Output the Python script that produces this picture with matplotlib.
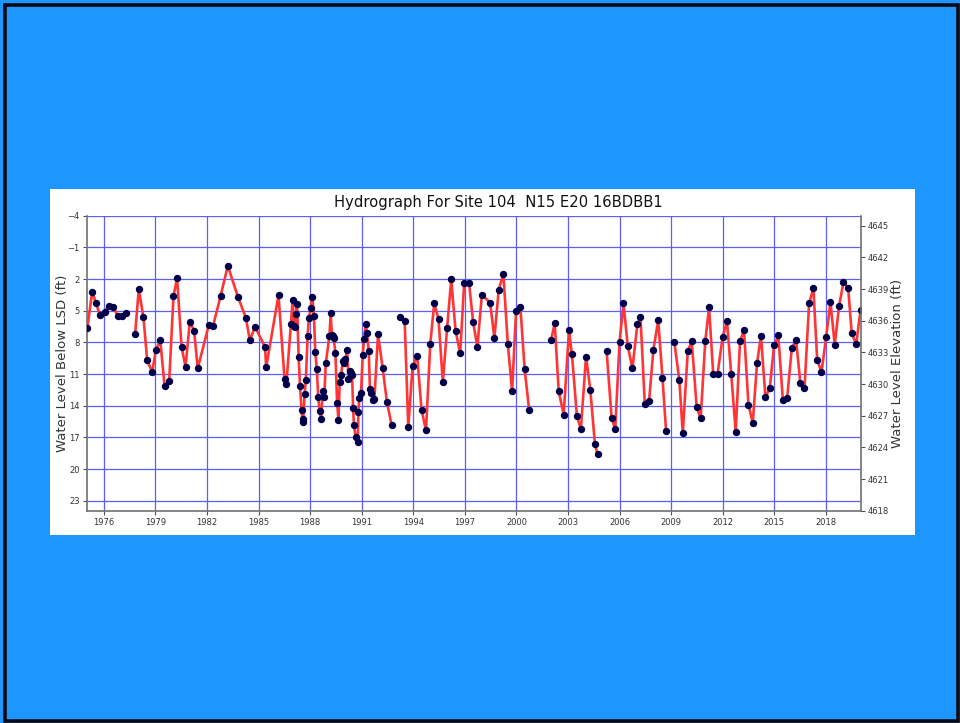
import numpy as np
import matplotlib.pyplot as plt
from matplotlib.patches import Rectangle

nan = np.nan

# decimal year of each measurement, nan marks a break in the record
years = [1975.04, 1975.32, 1975.54, 1975.77, 1976.04, 1976.27, 1976.55, 1976.80, 1977.03, 1977.28, nan,
         1977.82, 1978.03, 1978.30, 1978.52, 1978.81, 1979.03, 1979.28, 1979.53, 1979.80, 1980.05,
         1980.26, 1980.52, 1980.75, 1981.00, 1981.25, 1981.46, 1982.10, 1982.35, 1982.79, 1983.21,
         1983.81, 1984.26, 1984.49, 1984.80, 1985.38, 1985.44, 1986.16, 1986.51, 1986.62, 1986.88,
         1986.98, 1987.05, 1987.11, 1987.16, 1987.24, 1987.33, 1987.41, 1987.50, 1987.56, 1987.60,
         1987.68, 1987.75, 1987.85, 1987.93, 1988.04, 1988.13, 1988.22, 1988.30, 1988.39, 1988.47,
         1988.55, 1988.64, 1988.73, 1988.82, 1988.91, 1989.12, 1989.20, 1989.26, 1989.32, 1989.37,
         1989.47, 1989.57, 1989.65, 1989.72, 1989.80, 1989.90, 1989.95, 1990.05, 1990.15, 1990.23,
         1990.30, 1990.38, 1990.44, 1990.50, 1990.55, 1990.65, 1990.77, 1990.81, 1990.86, 1990.96,
         1991.06, 1991.14, 1991.23, 1991.31, 1991.41, 1991.48, 1991.56, 1991.64, 1991.74, 1991.95,
         1992.22, 1992.47, 1992.74, nan,
         1993.24, 1993.50, 1993.71, 1993.96, 1994.23, 1994.48, 1994.74, 1994.99, 1995.22, 1995.47,
         1995.72, 1995.97, 1996.21, 1996.46, 1996.73, 1996.96, 1997.25, 1997.48, 1997.73, 1997.99,
         1998.47, 1998.72, 1998.97, 1999.24, 1999.50, 1999.75, 1999.98, 2000.23, 2000.48, 2000.74, nan,
         2002.01, 2002.23, 2002.46, 2002.75, 2003.06, 2003.23, 2003.52, 2003.75, 2004.05, 2004.30,
         2004.57, 2004.72, nan,
         2005.25, 2005.54, 2005.75, 2006.00, 2006.23, 2006.48, 2006.75, 2007.04, 2007.22, 2007.47,
         2007.72, 2007.97, 2008.25, 2008.50, 2008.71, nan,
         2009.19, 2009.48, 2009.68, 2009.97, 2010.20, 2010.49, 2010.72, 2010.99, 2011.21, 2011.45,
         2011.70, 2012.00, 2012.25, 2012.50, 2012.76, 2013.01, 2013.24, 2013.50, 2013.75, 2014.00,
         2014.23, 2014.49, 2014.74, 2014.99, 2015.24, 2015.50, 2015.75, 2016.02, 2016.27, 2016.52,
         2016.76, 2017.03, 2017.28, 2017.50, 2017.75, 2018.02, 2018.27, 2018.52, 2018.77, 2019.03,
         2019.30, 2019.51, 2019.77, 2020.02]

# water level below land surface (ft)
depth = [6.61, 3.20, 4.30, 5.40, 5.13, 4.56, 4.65, 5.47, 5.54, 5.25, nan,
         7.18, 2.95, 5.60, 9.70, 10.80, 8.69, 7.81, 12.10, 11.66, 3.64,
         1.90, 8.44, 10.30, 6.04, 6.89, 10.46, 6.39, 6.45, 3.61, 0.74,
         3.74, 5.66, 7.78, 6.52, 8.47, 10.37, 3.52, 11.45, 11.90, 6.30,
         3.95, 6.45, 6.50, 5.30, 4.35, 9.40, 12.10, 14.40, 15.50, 15.30,
         12.85, 11.60, 7.40, 5.70, 4.70, 3.70, 5.50, 8.90, 10.55, 13.20,
         14.50, 15.25, 12.65, 13.20, 10.00, 7.43, 5.25, 7.27, 7.37, 7.60,
         9.00, 13.78, 15.33, 11.75, 11.08, 9.78, 10.00, 9.55, 8.76, 11.45,
         10.68, 10.90, 11.06, 14.23, 15.85, 17.00, 17.42, 14.60, 13.24, 12.80,
         9.17, 7.65, 6.30, 7.10, 8.86, 12.40, 12.83, 13.47, 13.33, 7.25,
         10.46, 13.68, 15.83, nan,
         5.57, 5.98, 16.05, 10.27, 9.33, 14.38, 16.34, 8.13, 4.30, 5.79,
         11.79, 6.61, 2.03, 6.89, 9.04, 2.41, 2.41, 6.04, 8.44, 3.48,
         4.24, 7.59, 3.04, 1.49, 8.13, 12.61, 5.06, 4.62, 10.53, 14.38, nan,
         7.81, 6.20, 12.61, 14.85, 6.83, 9.14, 14.95, 16.24, 9.36, 12.48,
         17.66, 18.58, nan,
         8.85, 15.14, 16.24, 7.97, 4.30, 8.35, 10.46, 6.26, 5.63, 13.84,
         13.53, 8.69, 5.92, 11.38, 16.43, nan,
         7.97, 11.60, 16.62, 8.85, 7.87, 14.16, 15.20, 7.87, 4.68, 11.02,
         11.02, 7.50, 5.98, 11.03, 16.49, 7.90, 6.83, 13.90, 15.64, 9.96,
         7.40, 13.18, 12.36, 8.29, 7.34, 13.43, 13.30, 8.57, 7.75, 11.85,
         12.36, 4.30, 2.88, 9.67, 10.81, 7.50, 4.18, 8.22, 4.59, 2.28,
         2.82, 7.15, 8.19, 4.94]

land_surface = 4641.95
title = "Hydrograph For Site 104  N15 E20 16BDBB1"
x_ticks = list(range(1976, 2020, 3))
depth_ticks = list(range(-4, 24, 3))
elev_ticks = list(range(4618, 4646, 3))

fig = plt.figure(figsize=(9.6, 7.23), dpi=100, facecolor='#1E96FF')

# white chart panel (behind the axes) and black outer border
fig.patches.append(Rectangle((50 / 960, 1 - 535 / 723), 865 / 960, 346 / 723,
                             transform=fig.transFigure, facecolor='white',
                             edgecolor='none', zorder=-10))
fig.patches.append(Rectangle((4.5 / 960, 1 - 720.5 / 723), 953 / 960, 716 / 723,
                             transform=fig.transFigure, facecolor='none',
                             edgecolor='#0A0A14', linewidth=2.6, zorder=10))

ax = fig.add_axes([0.0903, 0.2936, 0.8066, 0.408])
ax.set_facecolor('white')
ax.plot(years, depth, color='#FF3535', linewidth=1.9, zorder=3)
ax.plot(years, depth, linestyle='none', marker='o', markersize=4.3,
        color='#00004A', zorder=4)

ax.set_xlim(1975.0, 2020.05)
ax.set_ylim(23.95, -4)
ax.set_xticks(x_ticks)
ax.set_xticklabels([str(y) for y in x_ticks])
ax.set_yticks(depth_ticks)
ax.grid(True, color='#5E5EFF', linewidth=0.9)
ax.set_axisbelow(True)

for s in ['top', 'right']:
    ax.spines[s].set_visible(False)
for s in ['left', 'bottom']:
    ax.spines[s].set_color('#707070')
    ax.spines[s].set_linewidth(1.2)
ax.tick_params(axis='both', length=3, width=0.8, color='#505050',
               labelsize=6, labelcolor='#333333', pad=2)
ax.set_ylabel("Water Level Below LSD (ft)", fontsize=9.5, color='#333333')
ax.yaxis.set_label_coords(-0.023, 0.5)

ax2 = ax.twinx()
ax2.set_ylim(land_surface - 23.95, land_surface + 4)
ax2.set_yticks(elev_ticks)
ax2.spines['top'].set_visible(False)
ax2.spines['left'].set_visible(False)
ax2.spines['bottom'].set_visible(False)
ax2.spines['right'].set_color('#707070')
ax2.spines['right'].set_linewidth(1.2)
ax2.tick_params(axis='y', length=3, width=0.8, color='#505050',
                labelsize=6, labelcolor='#333333', pad=2)
ax2.set_ylabel("Water Level Elevation (ft)", fontsize=9.5, color='#333333')
ax2.yaxis.set_label_coords(1.0385, 0.5)

fig.text(498 / 960, 1 - 203 / 723, title, fontsize=10.6, color='#111111',
         ha='center', va='center')

fig.savefig('out.png', dpi=100, facecolor=fig.get_facecolor())
